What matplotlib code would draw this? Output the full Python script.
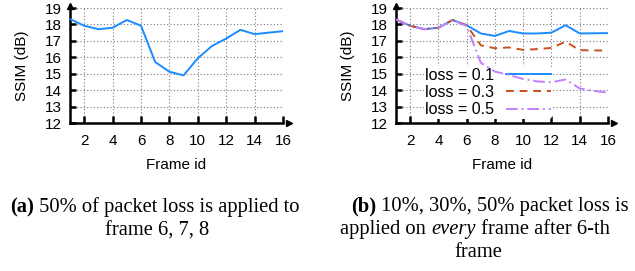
import matplotlib
matplotlib.use("Agg")
import matplotlib.pyplot as plt
import numpy as np

frames = list(range(1, 17))
ssim_a = [18.33, 17.92, 17.71, 17.8, 18.27, 17.92, 15.71, 15.12, 14.9, 15.94, 16.69, 17.14, 17.67, 17.41, 17.5, 17.59]
loss_01 = [18.3, 17.92, 17.71, 17.8, 18.27, 17.95, 17.45, 17.3, 17.6, 17.45, 17.45, 17.5, 17.95, 17.45, 17.46, 17.47]
loss_03 = [18.3, 17.92, 17.71, 17.8, 18.27, 17.95, 16.73, 16.55, 16.6, 16.45, 16.5, 16.57, 16.95, 16.43, 16.42, 16.4]
loss_05 = [18.3, 17.92, 17.71, 17.8, 18.27, 17.9, 15.67, 15.13, 14.92, 14.68, 14.53, 14.48, 14.65, 14.1, 13.95, 13.85]
labels_b = ["loss = 0.1", "loss = 0.3", "loss = 0.5"]
xticks = [2, 4, 6, 8, 10, 12, 14, 16]
yticks = [12, 13, 14, 15, 16, 17, 18, 19]
caption_a = [[("(a)", "bold", "normal"), (" 50% of packet loss is applied to", "normal", "normal")],
             [("frame 6, 7, 8", "normal", "normal")]]
caption_b = [[("(b)", "bold", "normal"), (" 10%, 30%, 50% packet loss is", "normal", "normal")],
             [("applied on ", "normal", "normal"), ("every", "normal", "italic"), (" frame after 6-th", "normal", "normal")],
             [("frame", "normal", "normal")]]

plt.rcParams['font.family'] = ['Liberation Sans', 'DejaVu Sans']

W, H = 635, 271
fig = plt.figure(figsize=(6.35, 2.71), dpi=100)
axA = fig.add_axes([70 / W, 1 - 123 / H, 213 / W, 115 / H])
axB = fig.add_axes([396 / W, 1 - 123 / H, 212 / W, 115 / H])

def style(ax):
    ax.set_xlim(1, 16)
    ax.set_ylim(12, 19)
    ax.set_xticks(xticks)
    ax.set_yticks(yticks)
    ax.set_axisbelow(True)
    ax.grid(True, color='#7a7a7a', linestyle=(0, (1, 2)), linewidth=0.8)
    for s in ['top', 'right']:
        ax.spines[s].set_visible(False)
    for s in ['left', 'bottom']:
        ax.spines[s].set_linewidth(1.8)
    ax.tick_params(axis='x', direction='in', length=5, width=1.8, labelsize=11, pad=8)
    ax.tick_params(axis='y', direction='in', length=4, width=1.8, labelsize=11, pad=6)
    ax.set_xlabel("Frame id", fontsize=11, labelpad=7)
    ax.set_ylabel("SSIM (dB)", fontsize=11, labelpad=11)
    ax.plot(1.03, 0, ">k", transform=ax.transAxes, clip_on=False, markersize=5)
    ax.plot(0, 1.02, "^k", transform=ax.transAxes, clip_on=False, markersize=5)

style(axA)
axA.plot(frames, ssim_a, color='#1a8cff', linewidth=1.4, zorder=3)

style(axB)
axB.plot(frames, loss_01, color='#1a8cff', linewidth=1.4, label=labels_b[0], zorder=3)
axB.plot(frames, loss_03, color='#c8501e', linewidth=1.4, linestyle=(0, (4, 3)), label=labels_b[1], zorder=3)
axB.plot(frames, loss_05, color='#c080ff', linewidth=1.4, linestyle=(0, (6, 2, 1, 2)), label=labels_b[2], zorder=3)
leg = axB.legend(loc='center left', bbox_to_anchor=(0.13, 0.265), markerfirst=False, frameon=True,
                 fontsize=11.5, handlelength=2.8, labelspacing=0.13, borderpad=0.1, handletextpad=0.75,
                 borderaxespad=0)
leg.get_frame().set_facecolor('white')
leg.get_frame().set_edgecolor('none')
leg.get_frame().set_alpha(1)
leg.set_zorder(2)

serif = ['Liberation Serif', 'DejaVu Serif']
CAP_FS = 14.8
renderer = fig.canvas.get_renderer()

def caption(centers, baselines, lines):
    for (parts, cx, by) in zip(lines, centers, baselines):
        texts = []
        for (s, w, st) in parts:
            t = fig.text(0, 1 - by / H, s, fontsize=CAP_FS, family=serif, fontweight=w,
                         style=st, ha='left', va='baseline')
            texts.append(t)
        widths = [t.get_window_extent(renderer).width for t in texts]
        total = sum(widths)
        x = cx - total / 2
        for t, w in zip(texts, widths):
            t.set_x(x / W)
            x += w

caption([155, 157], [212, 236], caption_a)
caption([490, 475, 478], [211, 234, 257], caption_b)

fig.savefig("out.png", dpi=100)
